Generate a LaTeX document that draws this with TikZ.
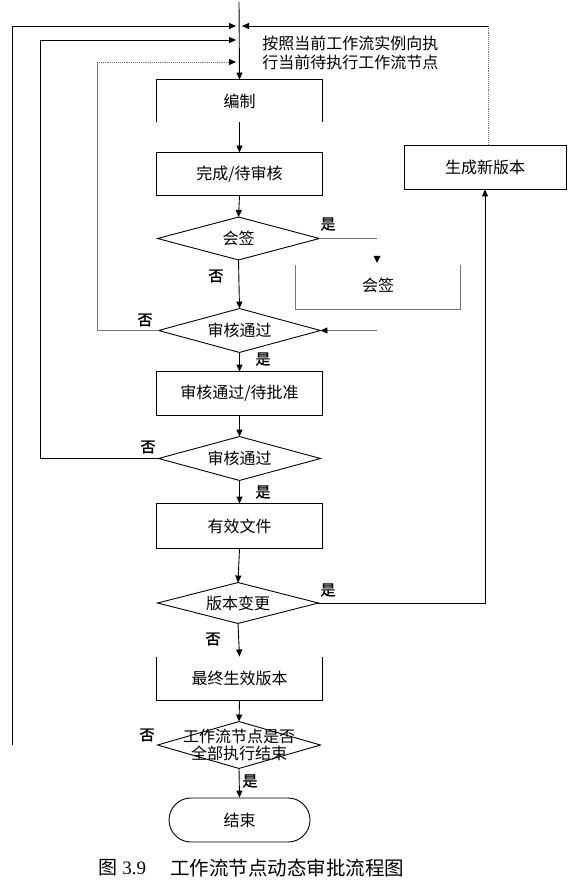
\documentclass[tikz,border=0pt]{standalone}
\usepackage{fontspec}
\setmainfont{Liberation Serif}
\newfontfamily\cjk{Noto Sans CJK SC}
\newfontfamily\cjkb{Noto Sans CJK SC}[FakeBold=1.2]
\usetikzlibrary{arrows.meta}
\begin{document}
\begin{tikzpicture}[x=1pt,y=-1pt,line width=0.9pt,
  tip/.style={-{Triangle[length=7pt,width=6pt,color=black]}},
  txt/.style={inner sep=0pt,font=\cjk\fontsize{16}{17}\selectfont},
  box/.style={txt,minimum width=165pt,minimum height=43pt},
  dia/.style={txt,minimum width=161pt,minimum height=42pt},
  lbl/.style={inner sep=0pt,font=\cjkb\fontsize{15}{16}\selectfont},
  grayline/.style={draw=black!55},
  dotline/.style={draw=black!55,densely dotted}]
\useasboundingbox (0,0) rectangle (574,890);
% nodes
\node[box,minimum height=42pt] (bz) at (239.5,101) {编制};
\node[box,minimum height=42pt] (wc) at (239.5,174) {完成/待审核};
\node[dia] (hq) at (238.5,238.5) {会签};
\node[dia,minimum height=43pt] (sh1) at (239.5,330.5) {审核通过};
\node[box] (sp) at (239.5,393.5) {审核通过/待批准};
\node[dia,minimum height=43pt] (sh2) at (239.5,458.5) {审核通过};
\node[box,minimum height=44pt] (yx) at (239.5,526) {有效文件};
\node[dia,minimum width=160pt,minimum height=40pt] (bb) at (238,603) {版本变更};
\node[box] (zz) at (239.5,678.5) {最终生效版本};
\node[dia,minimum width=162pt,minimum height=46pt,align=center] (gz) at (239,745) {工作流节点是否\\全部执行结束};
\node[txt,minimum width=141pt,minimum height=44pt,draw,rounded corners=22pt] (js) at (239.5,820) {结束};
\node[box,minimum width=162pt,minimum height=44pt,draw] (sc) at (485,167) {生成新版本};
\node[box,minimum width=164pt,minimum height=44pt] (hqb) at (378,287) {};
\node[txt] (hqt) at (378,285) {会签};
\node[txt,align=left,anchor=west,font=\cjk\fontsize{16}{19}\selectfont] (note) at (262,52.5) {按照当前工作流实例向执\\行当前待执行工作流节点};
% shapes
\draw (bz.south west) -- (bz.north west) -- (bz.north east) -- (bz.south east);
\draw (wc.south west) rectangle (wc.north east);
\foreach \n in {hq,sh1,sh2,bb,gz}{\draw (\n.west) -- (\n.north) -- (\n.east) -- (\n.south) -- cycle;}
\draw (sp.south west) rectangle (sp.north east);
\draw (yx.south west) rectangle (yx.north east);
\draw (zz.north west) -- (zz.south west) -- (zz.south east) -- (zz.north east);
\draw[grayline] (hqb.north west) -- (hqb.south west) -- (hqb.south east) -- (hqb.north east);
% coordinates
\coordinate (t0) at (239,2);
\coordinate (o1) at (12,745);
\coordinate (o2) at (12,26);
\coordinate (o3) at (236,26);
\coordinate (r1) at (488,26);
\coordinate (r2) at (242,26);
\coordinate (l2a) at (40,458.5);
\coordinate (l2b) at (40,40);
\coordinate (l2c) at (236,40);
\coordinate (l3a) at (97,330.5);
\coordinate (l3b) at (97,62);
\coordinate (l3c) at (236,62);
\coordinate (hqe) at (377,238.5);
\coordinate (sh1e) at (377,330.5);
\coordinate (bbe) at (485,603);
% connectors
\draw[tip] (t0) -- (bz.north);
\draw[tip] (bz.south) -- (wc.north);
\draw[tip] (wc.south) -- (hq.north);
\draw[tip] (hq.south) -- (sh1.north);
\draw[tip] (sh1.south) -- (sp.north);
\draw[tip] (sp.south) -- (sh2.north);
\draw[tip] (sh2.south) -- (yx.north);
\draw[tip] (yx.south) -- (bb.north);
\draw[tip] (bb.south) -- (zz.north);
\draw[tip] (zz.south) -- (gz.north);
\draw[tip] (gz.south) -- (js.north);
\draw[tip] (o1) -- (o2) -- (o3);
\draw[dotline] ([xshift=3pt]sc.north) -- (r1);
\draw[tip] (r1) -- (r2);
\draw[tip] (sh2.west) -- (l2a) -- (l2b) -- (l2c);
\draw[grayline] (sh1.west) -- (l3a) -- (l3b);
\draw[dotline,tip] (l3b) -- (l3c);
\draw[grayline] (hq.east) -- (hqe);
\fill (373.5,256) -- (380.5,256) -- (377,263) -- cycle;
\draw[grayline,tip] (sh1e) -- (sh1.east);
\draw[tip] (bb.east) -- (bbe) -- (sc.south);
% labels
\node[lbl] (y1) at (328,224) {是};
\node[lbl] (n1) at (216,276) {否};
\node[lbl] (n2) at (145,320) {否};
\node[lbl] (y2) at (263,359) {是};
\node[lbl] (n3) at (148,447) {否};
\node[lbl] (y3) at (263,492) {是};
\node[lbl] (y4) at (328,590) {是};
\node[lbl] (n4) at (213,639) {否};
\node[lbl] (n5) at (147,735) {否};
\node[lbl] (y5) at (250,781) {是};
% caption
\node[anchor=west,inner sep=0pt] (cap1) at (98,868) {{\cjk\fontsize{19}{20}\selectfont 图}\hspace{5pt}{\fontsize{19}{20}\selectfont 3.9}};
\node[anchor=west,inner sep=0pt,font=\cjk\fontsize{19.5}{20}\selectfont] (cap2) at (170,868) {工作流节点动态审批流程图};
\end{tikzpicture}
\end{document}
